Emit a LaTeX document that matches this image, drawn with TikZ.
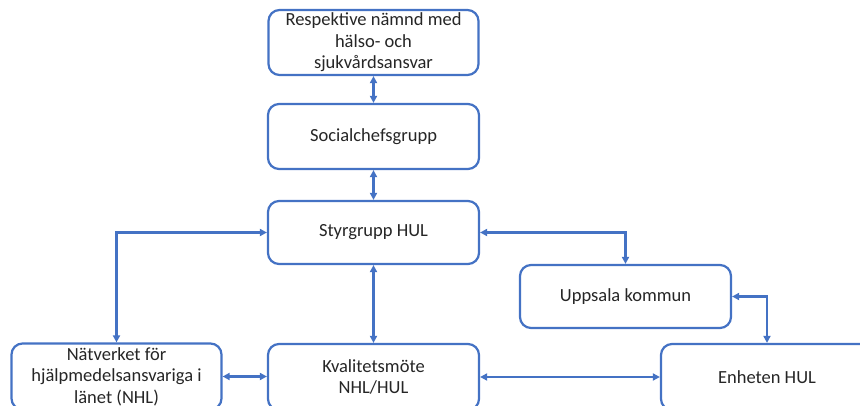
\documentclass[tikz,border=0pt]{standalone}
\usepackage{fontspec}
\setmainfont{Carlito}
\usetikzlibrary{arrows.meta}
\definecolor{bl}{HTML}{4472C4}
\begin{document}
\begin{tikzpicture}[x=1pt,y=-1pt,
  box/.style={draw=bl, line width=2.2pt, rounded corners=11pt, fill=white, align=center,
    font=\fontsize{18.5}{21.5}\selectfont, text=black!85, inner sep=0pt},
  con/.style={draw=bl, line width=2.2pt, {Triangle[length=7pt,width=7pt]}-{Triangle[length=7pt,width=7pt]}}]
\useasboundingbox (0,0) rectangle (860,406);
\clip (0,0) rectangle (860,406);
\node[box, minimum width=210pt, minimum height=65pt] (resp) at (373.5,42.5) {Respektive nämnd med\\hälso- och\\sjukvårdsansvar};
\node[box, minimum width=211pt, minimum height=65pt] (soc) at (373.5,136.5) {Socialchefsgrupp};
\node[box, minimum width=211pt, minimum height=63pt] (styr) at (373.5,232.5) {Styrgrupp HUL};
\node[box, minimum width=211pt, minimum height=63pt] (upp) at (625.5,296.5) {Uppsala kommun};
\node[box, minimum width=211pt, minimum height=66pt] (kval) at (373.5,377) {Kvalitetsmöte\\NHL/HUL};
\node[box, minimum width=210pt, minimum height=66pt] (nat) at (116.5,376.5) {Nätverket för\\hjälpmedelsansvariga i\\länet (NHL)};
\node[box, minimum width=212pt, minimum height=66pt] (enh) at (767,377) {Enheten HUL};
\draw[con] (resp) -- (soc);
\draw[con] (soc) -- (styr);
\draw[con] (styr) -- (kval);
\draw[con] (styr.west) -| (nat.north);
\draw[con] (styr.east) -| (upp.north);
\draw[con] (upp.east) -| (enh.north);
\draw[con] (nat.east) -- (nat.east -| kval.west);
\draw[con] (kval.east) -- (kval.east -| enh.west);
\end{tikzpicture}
\end{document}
